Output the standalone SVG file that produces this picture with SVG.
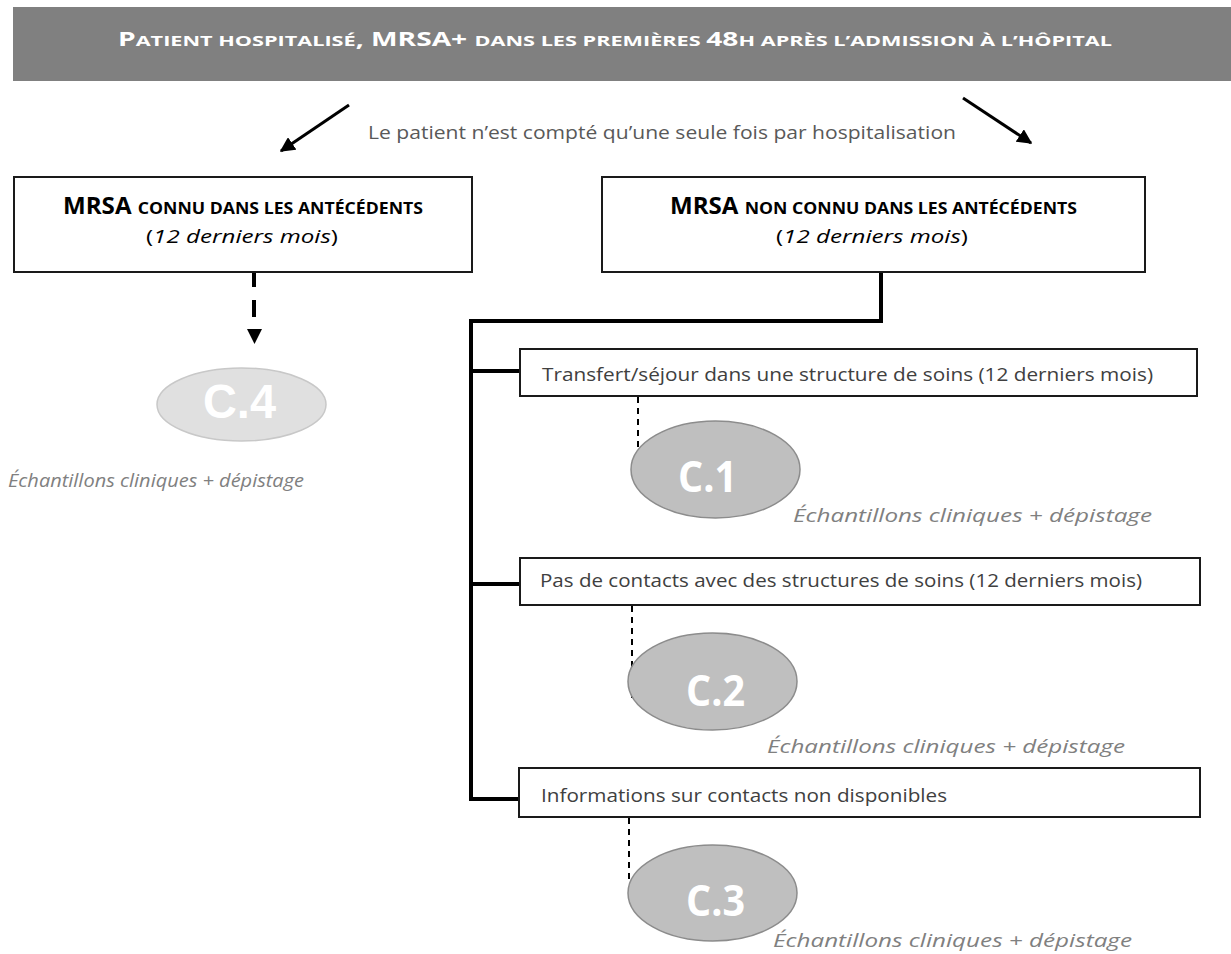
<svg xmlns="http://www.w3.org/2000/svg" width="1231" height="954" viewBox="0 0 1231 954">
<style>
.box{fill:#fff;stroke:#1a1a1a;stroke-width:2}
.hd{font-family:"Open Sans","Noto Sans",sans-serif;font-weight:bold;fill:#000}
.sub{font-family:"Open Sans","Noto Sans",sans-serif;font-size:19px;fill:#000}
.lbl{font-family:"Open Sans","Noto Sans",sans-serif;font-size:19px;fill:#404040}
.ech{font-family:"Open Sans","Noto Sans",sans-serif;font-size:19px;font-style:italic;fill:#808080}
.ell{fill:#bfbfbf;stroke:#8c8c8c;stroke-width:1.5}
.cn{font-family:"Open Sans","Noto Sans",sans-serif;font-weight:bold;font-size:43px;fill:#fff}
.tree{fill:none;stroke:#000;stroke-width:4}
.dash{fill:none;stroke:#000;stroke-width:2;stroke-dasharray:6 5}
</style>
<defs>
<marker id="ah" viewBox="0 0 10 10" refX="9" refY="5" markerWidth="5" markerHeight="5" orient="auto" markerUnits="strokeWidth">
<path d="M0,0 L10,5 L0,10 z" fill="#000"/>
</marker>
</defs>
<rect width="1231" height="954" fill="#fff"/>

<g id="header">
<rect x="13" y="7" width="1218" height="74" fill="#808080"/>
<text x="118" y="46" font-family="'Open Sans','Noto Sans',sans-serif" font-weight="bold" fill="#fff" font-size="19.5" textLength="994" lengthAdjust="spacingAndGlyphs">P<tspan font-size="15">ATIENT HOSPITALISÉ</tspan>, MRSA+ <tspan font-size="15">DANS LES PREMIÈRES </tspan>48<tspan font-size="15">H APRÈS L’ADMISSION À L’HÔPITAL</tspan></text>
</g>

<g id="note">
<text x="368" y="139" font-family="'Open Sans','Noto Sans',sans-serif" font-size="18.5" fill="#595959" textLength="588" lengthAdjust="spacingAndGlyphs">Le patient n’est compté qu’une seule fois par hospitalisation</text>
</g>

<g id="connectors">
<line x1="349" y1="105" x2="281" y2="151" stroke="#000" stroke-width="3" marker-end="url(#ah)"/>
<line x1="963" y1="98" x2="1031" y2="143" stroke="#000" stroke-width="3" marker-end="url(#ah)"/>
<path d="M254,273 V287 M254,300 V317" fill="none" stroke="#000" stroke-width="4"/>
<polygon points="247,329 262,329 254.5,344" fill="#000"/>
<polyline class="tree" points="881,272 881,321 471,321 471,799 519,799"/>
<line class="tree" x1="471" y1="371" x2="520" y2="371"/>
<line class="tree" x1="471" y1="584" x2="520" y2="584"/>
<line class="dash" x1="638" y1="397" x2="638" y2="452"/>
<line class="dash" x1="632" y1="606" x2="632" y2="698"/>
<line class="dash" x1="629" y1="818" x2="629" y2="883"/>
</g>

<g id="box-known">
<rect class="box" x="14" y="177" width="458" height="95"/>
<text class="hd" x="63" y="214" font-size="22.5" textLength="360" lengthAdjust="spacingAndGlyphs">MRSA <tspan font-size="16.5">CONNU DANS LES ANTÉCÉDENTS</tspan></text>
<text class="sub" x="146" y="243" textLength="192" lengthAdjust="spacingAndGlyphs">(<tspan font-style="italic">12 derniers mois</tspan>)</text>
</g>

<g id="box-unknown">
<rect class="box" x="602" y="177" width="543" height="95"/>
<text class="hd" x="670" y="214" font-size="22.5" textLength="407" lengthAdjust="spacingAndGlyphs">MRSA <tspan font-size="16.5">NON CONNU DANS LES ANTÉCÉDENTS</tspan></text>
<text class="sub" x="776" y="243" textLength="192" lengthAdjust="spacingAndGlyphs">(<tspan font-style="italic">12 derniers mois</tspan>)</text>
</g>

<g id="c4">
<ellipse cx="241.5" cy="404.5" rx="84.5" ry="36.5" fill="#e0e0e0" stroke="#c8c8c8" stroke-width="1.5"/>
<text x="203" y="418" font-family="'Liberation Sans',Arial,sans-serif" font-weight="bold" font-size="48" fill="#fff" textLength="73" lengthAdjust="spacingAndGlyphs">C.4</text>
<text class="ech" x="8" y="487" textLength="296" lengthAdjust="spacingAndGlyphs">Échantillons cliniques + dépistage</text>
</g>

<g id="box-transfert">
<rect class="box" x="520" y="349" width="677" height="47"/>
<text class="lbl" x="542" y="381" textLength="611" lengthAdjust="spacingAndGlyphs">Transfert/séjour dans une structure de soins (12 derniers mois)</text>
</g>

<g id="c1">
<ellipse class="ell" cx="715.5" cy="469.5" rx="84.5" ry="48.5"/>
<text class="cn" x="678" y="492" textLength="59" lengthAdjust="spacingAndGlyphs">C.1</text>
<text class="ech" x="793" y="522" textLength="359" lengthAdjust="spacingAndGlyphs">Échantillons cliniques + dépistage</text>
</g>

<g id="box-pas">
<rect class="box" x="520" y="558" width="680" height="47"/>
<text class="lbl" x="540" y="587" textLength="602" lengthAdjust="spacingAndGlyphs">Pas de contacts avec des structures de soins (12 derniers mois)</text>
</g>

<g id="c2">
<ellipse class="ell" cx="712.5" cy="681.5" rx="84.5" ry="48.5"/>
<text class="cn" x="686" y="706" textLength="59" lengthAdjust="spacingAndGlyphs">C.2</text>
<text class="ech" x="767" y="753" textLength="358" lengthAdjust="spacingAndGlyphs">Échantillons cliniques + dépistage</text>
</g>

<g id="box-info">
<rect class="box" x="519" y="768" width="681" height="49"/>
<text class="lbl" x="541" y="802" textLength="406" lengthAdjust="spacingAndGlyphs">Informations sur contacts non disponibles</text>
</g>

<g id="c3">
<ellipse class="ell" cx="712.5" cy="893" rx="84.5" ry="48"/>
<text class="cn" x="686" y="916" textLength="59" lengthAdjust="spacingAndGlyphs">C.3</text>
<text class="ech" x="773" y="947" textLength="359" lengthAdjust="spacingAndGlyphs">Échantillons cliniques + dépistage</text>
</g>
</svg>
